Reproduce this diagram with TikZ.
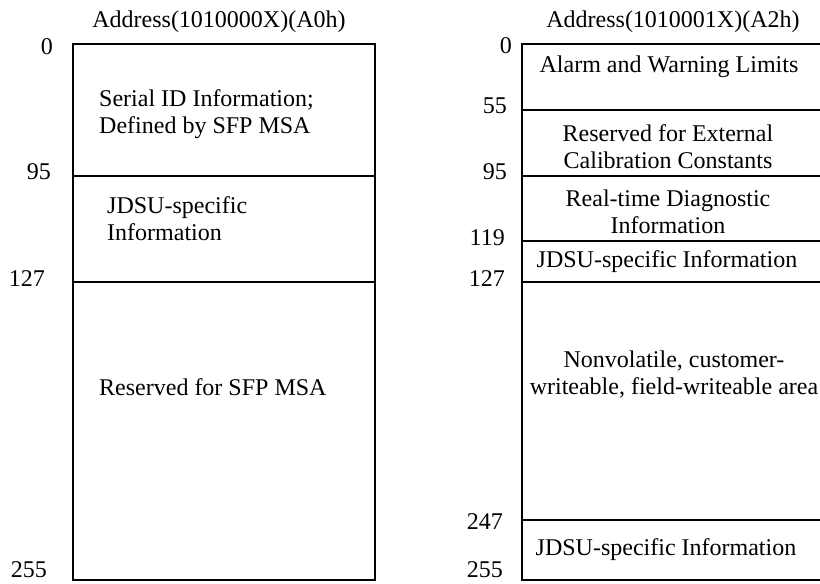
\documentclass[tikz,border=0pt]{standalone}
\usepackage{fontspec}
\setmainfont{Liberation Serif}
\begin{document}
\begin{tikzpicture}[
    x=1pt,y=-1pt,
    every node/.style={font=\fontsize{24}{27}\selectfont,inner sep=0pt},
    memblock/.style={draw=black,line width=1.1pt},
    split/.style={draw=black,line width=1.1pt},
    offset/.style={anchor=east},
    area/.style={align=center},
    arealeft/.style={align=left,anchor=west}
]
\useasboundingbox (0,0) rectangle (820,584);

% A0h page
\node (titleA0) at (219,22) {Address(1010000X)(A0h)};
\coordinate (a0nw) at (73,44);
\coordinate (a0se) at (375,580);
\draw[memblock] (a0nw) rectangle (a0se);
\foreach \y in {176,282}
  \draw[split] (73,\y) -- (375,\y);
\foreach \lab/\x/\y [count=\i] in {0/53/47,95/51/172,127/45/279,255/47/570}
  \node[offset] (offA0\i) at (\x,\y) {\lab};
\node[arealeft] (serialid) at (99,114) {Serial ID Information;\\Defined by SFP MSA};
\node[arealeft] (jdsuA0) at (107,219) {JDSU-specific\\Information};
\node[arealeft] (msaA0) at (99,387) {Reserved for SFP MSA};

% A2h page
\node (titleA2) at (673,22) {Address(1010001X)(A2h)};
\coordinate (a2nw) at (522,44);
\coordinate (a2se) at (826,580);
\draw[memblock] (a2nw) rectangle (a2se);
\foreach \y in {110,176,241,282,520}
  \draw[split] (522,\y) -- (826,\y);
\foreach \lab/\x/\y [count=\i] in {0/512/46,55/507/106,95/507/172,119/505/238,127/505/279,247/503/522,255/503/570}
  \node[offset] (offA2\i) at (\x,\y) {\lab};
\node[area] (alarm) at (669,67) {Alarm and Warning Limits};
\node[area] (extcal) at (668,147) {Reserved for External\\Calibration Constants};
\node[area] (diag) at (668,212) {Real-time Diagnostic\\Information};
\node[area] (jdsuA2) at (667,262) {JDSU-specific Information};
\node[area] (userarea) at (674,375) {Nonvolatile, customer-\\writeable, field-writeable area};
\node[area] (jdsuA2b) at (666,550) {JDSU-specific Information};
\end{tikzpicture}
\end{document}
